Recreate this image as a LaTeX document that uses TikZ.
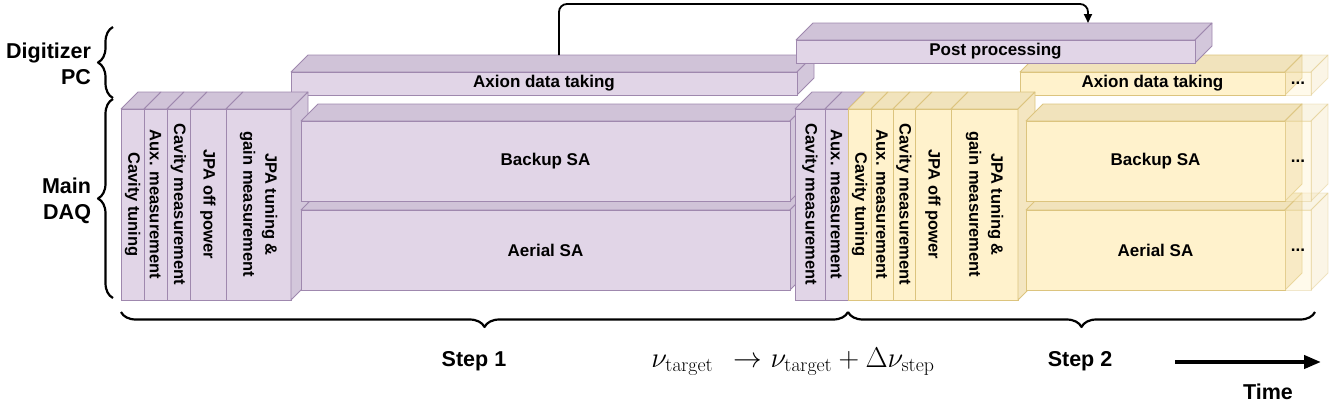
\documentclass[tikz,border=0pt]{standalone}
\usepackage[no-math]{fontspec}
\setsansfont{Liberation Sans}
\usetikzlibrary{decorations.pathreplacing,arrows.meta,calc}
\definecolor{pfront}{HTML}{E1D5E7}
\definecolor{ptop}{HTML}{D0C3D8}
\definecolor{pside}{HTML}{D3C7DB}
\definecolor{pline}{HTML}{9F88AE}
\definecolor{yfront}{HTML}{FFF2CC}
\definecolor{ytop}{HTML}{F1E3BC}
\definecolor{yside}{HTML}{F4E6C1}
\definecolor{yline}{HTML}{DCC47E}
\newcommand\dd{17}
\newcommand\mytop[4]{% x1,x2,y,prefix
  \filldraw[fill=#4top,draw=#4line,line width=0.8pt,line join=round]
    (#1,#3) -- (#1+\dd,#3-\dd) -- (#2+\dd,#3-\dd) -- (#2,#3) -- cycle;}
\newcommand\myside[4]{% x,y1,y2,prefix
  \filldraw[fill=#4side,draw=#4line,line width=0.8pt,line join=round]
    (#1,#2) -- (#1+\dd,#2-\dd) -- (#1+\dd,#3-\dd) -- (#1,#3) -- cycle;}
\newcommand\mycube[7]{% name,x1,y1,x2,y2,prefix,text
  \mytop{#2}{#4}{#3}{#6}%
  \myside{#4}{#3}{#5}{#6}%
  \node[#6box, minimum width={(#4-#2)*1pt}, minimum height={(#5-#3)*1pt}]
    (#1) at ({(#2+#4)/2},{(#3+#5)/2}) {#7};}
\newcommand\mycol[5]{% name,x1,x2,prefix,text
  \mytop{#2}{#3}{109}{#4}%
  \node[#4box, colfont, rotate=-90, minimum width=191pt, minimum height={(#3-#2)*1pt}]
    (#1) at ({(#2+#3)/2},204.5) {#5};}
\tikzset{
  every node/.style={inner sep=0pt, outer sep=0pt},
  lab/.style={font=\sffamily\bfseries\fontsize{17}{20}\selectfont, align=center},
  colfont/.style={font=\sffamily\bfseries\fontsize{16.5}{22}\selectfont},
  pbox/.style={lab, fill=pfront, draw=pline, line width=0.8pt},
  ybox/.style={lab, fill=yfront, draw=yline, line width=0.8pt},
  outer/.style={font=\sffamily\bfseries\fontsize{21.5}{26}\selectfont},
  brace/.style={decorate, decoration={brace, amplitude=15pt}, line width=2.2pt, line join=round},
  mbrace/.style={decorate, decoration={brace, amplitude=15pt, mirror}, line width=2.2pt, line join=round},
  flow/.style={line width=1.8pt, rounded corners=8pt, -{Triangle[length=9pt,width=8pt]}},
  timearrow/.style={line width=4pt, -{Triangle[length=17pt,width=13pt]}},
  faded/.style={fill opacity=0.4, draw opacity=0.4, text opacity=1},
}
\begin{document}
\begin{tikzpicture}[x=1pt,y=-1pt]
\useasboundingbox (0,0) rectangle (1340,405);
% left labels and braces
\node[outer, align=right, anchor=east] (dpc) at (91,64) {Digitizer\\PC};
\node[outer, align=right, anchor=east] (daq) at (91,201) {Main\\DAQ};
\draw[brace] (113,98) -- (113,27);
\draw[brace] (113,298) -- (113,99);
% digitizer boxes
\mycube{ax1}{291}{72}{797}{95}{p}{Axion data taking}
\mycube{ax2}{1020}{72}{1285}{95}{y}{Axion data taking}
\begin{scope}[faded]
\mycube{ax2d}{1285}{72}{1311}{95}{y}{...}
\end{scope}
\mycube{pp}{796}{40}{1195}{63}{p}{Post processing}
% left column stack
\mycol{c1}{121}{144}{p}{Cavity tuning}
\mycol{c2}{144}{167}{p}{Aux. measurement}
\mycol{c3}{167}{190}{p}{Cavity measurement}
\mycol{c4}{190}{226}{p}{JPA off power}
\mycol{c5}{226}{291}{p}{JPA tuning \&\\gain measurement}
\myside{291}{109}{300}{p}
% SA boxes step 1
\mycube{ae1}{301}{210}{790}{290}{p}{Aerial SA}
\mycube{bk1}{301}{121}{790}{201}{p}{Backup SA}
% middle stack
\mycol{m1}{795}{825}{p}{Cavity measurement}
\mycol{m2}{825}{848}{p}{Aux. measurement}
\mycol{m3}{848}{871}{y}{Cavity tuning}
\mycol{m4}{871}{893}{y}{Aux. measurement}
\mycol{m5}{893}{915}{y}{Cavity measurement}
\mycol{m6}{915}{951}{y}{JPA off power}
\mycol{m7}{951}{1018}{y}{JPA tuning \&\\gain measurement}
\myside{1018}{109}{300}{y}
% SA boxes step 2
\mycube{ae2}{1026}{210}{1285}{290}{y}{Aerial SA}
\mycube{bk2}{1026}{121}{1285}{201}{y}{Backup SA}
\begin{scope}[faded]
\mycube{ae2d}{1285}{210}{1311}{290}{y}{...}
\mycube{bk2d}{1285}{121}{1311}{201}{y}{...}
\end{scope}
% flow arrow
\coordinate (axtop) at (559,55);
\coordinate (pptop) at (1088,23);
\draw[flow] (axtop) |- ([yshift=19pt]pptop) -- (pptop);
% bottom braces
\draw[mbrace] (121,312) -- (848,312);
\draw[mbrace] (848,312) -- (1315,312);
\node[outer] (s1) at (474,361) {Step 1};
\node[outer] (s2) at (1080,361) {Step 2};
\node[scale=1.15] (eq) at (793,362) {\fontsize{24}{28}\selectfont $\nu_{\mathrm{target}}\;\,\rightarrow\nu_{\mathrm{target}}+\Delta\nu_{\mathrm{step}}$};
\coordinate (t0) at (1175,362);
\coordinate (t1) at (1321,362);
\draw[timearrow] (t0) -- (t1);
\node[outer] (time) at (1268,392) {Time};
\end{tikzpicture}
\end{document}
